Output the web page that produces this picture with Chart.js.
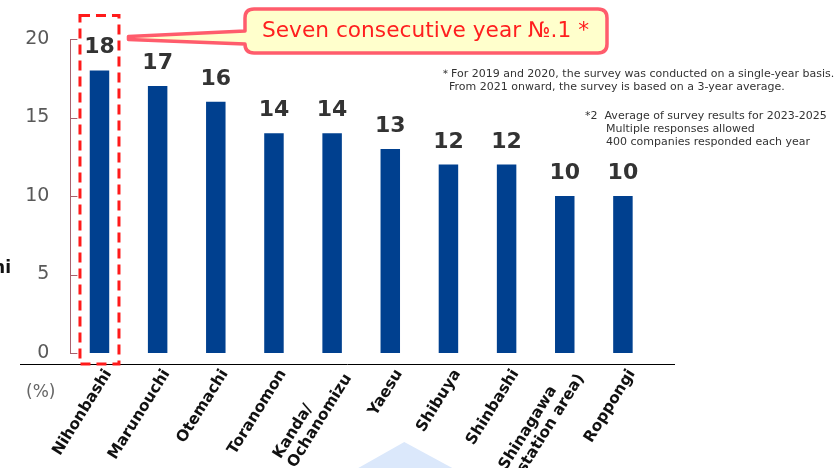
<!DOCTYPE html>
<html>
<head>
<meta charset="utf-8">
<script src="https://cdn.jsdelivr.net/npm/chart.js@4"></script>
<style>
  html, body { margin: 0; padding: 0; background: #fff; }
  #wrap { width: 836px; height: 468px; }
</style>
</head>
<body>
<div id="wrap"><canvas id="rankChart" width="836" height="468"></canvas></div>
<script>
const areas = ['Nihonbashi', 'Marunouchi', 'Otemachi', 'Toranomon', ['Kanda/', 'Ochanomizu'],
    'Yaesu', 'Shibuya', 'Shinbashi', ['Shinagawa', '(station area)'], 'Roppongi'];
const shares = [18, 17, 16, 14, 14, 13, 12, 12, 10, 10];
const yTicks = [0, 5, 10, 15, 20];

const calloutText = 'Seven consecutive year \u2116.1 *';
const noteLines1 = ['\uFF0AFor 2019 and 2020, the survey was conducted on a single-year basis.',
    'From 2021 onward, the survey is based on a 3-year average.'];
const noteLines2 = ['*2  Average of survey results for 2023-2025',
    'Multiple responses allowed', '400 companies responded each year'];

const FONT = '"DejaVu Sans", Verdana, sans-serif';
const LABEL_ANGLE = 58;

// arrow shape behind everything
const backdrop = {
    id: 'backdrop',
    beforeDraw(chart) {
        const ctx = chart.ctx;
        const x = chart.scales.x.getPixelForValue(5) + 14;
        ctx.save();
        ctx.fillStyle = '#dbe8fb';
        ctx.beginPath();
        ctx.moveTo(x, 442);
        ctx.lineTo(x + 48, 468);
        ctx.lineTo(x - 46, 468);
        ctx.closePath();
        ctx.fill();
        ctx.restore();
    }
};

// category labels: rotated, multi-line ones left aligned like the original
const categoryLabels = {
    id: 'categoryLabels',
    afterDraw(chart) {
        const ctx = chart.ctx;
        const xs = chart.scales.x;
        ctx.save();
        ctx.fillStyle = '#111';
        ctx.font = 'bold 15.5px ' + FONT;
        ctx.textAlign = 'left';
        ctx.textBaseline = 'middle';
        areas.forEach((lab, i) => {
            const lines = Array.isArray(lab) ? lab : [lab];
            const maxW = Math.max(...lines.map(l => ctx.measureText(l).width));
            ctx.save();
            ctx.translate(xs.getPixelForTick(i) + 9, xs.top + 18);
            ctx.rotate(-LABEL_ANGLE * Math.PI / 180);
            lines.forEach((l, j) => {
                ctx.fillText(l, -maxW, (j - (lines.length - 1) / 2) * 17);
            });
            ctx.restore();
        });
        ctx.restore();
    }
};

const extras = {
    id: 'extras',
    afterDraw(chart) {
        const ctx = chart.ctx;
        const area = chart.chartArea;
        const xs = chart.scales.x, ys = chart.scales.y;
        ctx.save();

        // inner ticks on the y axis
        ctx.strokeStyle = '#a8606c';
        ctx.lineWidth = 1;
        yTicks.forEach(v => {
            const py = Math.round(ys.getPixelForValue(v)) + 0.5;
            ctx.beginPath();
            ctx.moveTo(area.left, py);
            ctx.lineTo(area.left + 7, py);
            ctx.stroke();
        });

        // baseline under the bars
        const baseY = Math.round(area.bottom) + 11.5;
        ctx.strokeStyle = '#000';
        ctx.beginPath();
        ctx.moveTo(20, baseY);
        ctx.lineTo(675, baseY);
        ctx.stroke();

        // value labels
        ctx.fillStyle = '#333';
        ctx.font = 'bold 22px ' + FONT;
        ctx.textAlign = 'center';
        ctx.textBaseline = 'alphabetic';
        chart.getDatasetMeta(0).data.forEach((bar, i) => {
            ctx.fillText(shares[i], bar.x, bar.y - 17);
        });

        // dashed box around No.1
        const cx = xs.getPixelForValue(0);
        ctx.strokeStyle = '#ff1a1a';
        ctx.lineWidth = 3;
        ctx.setLineDash([10, 6]);
        ctx.strokeRect(cx - 19.5, 15.5, 39, baseY - 16);
        ctx.setLineDash([]);

        // callout
        const bx = 245, by = 9, bw = 362, bh = 44, r = 9;
        ctx.beginPath();
        ctx.moveTo(bx + r, by);
        ctx.lineTo(bx + bw - r, by);
        ctx.quadraticCurveTo(bx + bw, by, bx + bw, by + r);
        ctx.lineTo(bx + bw, by + bh - r);
        ctx.quadraticCurveTo(bx + bw, by + bh, bx + bw - r, by + bh);
        ctx.lineTo(bx + r, by + bh);
        ctx.quadraticCurveTo(bx, by + bh, bx, by + bh - r);
        ctx.lineTo(bx, 44);
        ctx.lineTo(cx + 29, 39.5);
        ctx.lineTo(cx + 29, 36.5);
        ctx.lineTo(bx, 31);
        ctx.lineTo(bx, by + r);
        ctx.quadraticCurveTo(bx, by, bx + r, by);
        ctx.closePath();
        ctx.fillStyle = '#ffffcc';
        ctx.fill();
        ctx.strokeStyle = '#ff5c6c';
        ctx.lineWidth = 3.5;
        ctx.lineJoin = 'round';
        ctx.stroke();

        ctx.fillStyle = '#ff1f1f';
        ctx.font = '21.7px ' + FONT;
        ctx.textAlign = 'left';
        ctx.textBaseline = 'middle';
        ctx.fillText(calloutText, 262, 31);

        // notes
        ctx.fillStyle = '#333';
        ctx.font = '11px ' + FONT;
        ctx.textBaseline = 'alphabetic';
        ctx.fillText(noteLines1[0], 440, 77);
        ctx.fillText(noteLines1[1], 449, 90);
        ctx.fillText(noteLines2[0], 585, 119);
        ctx.fillText(noteLines2[1], 606, 132);
        ctx.fillText(noteLines2[2], 606, 145);

        // unit and clipped side title
        ctx.fillStyle = '#666';
        ctx.font = '17px ' + FONT;
        ctx.fillText('(%)', 26, 397);
        ctx.fillStyle = '#111';
        ctx.font = 'bold 17px ' + FONT;
        ctx.textAlign = 'right';
        ctx.fillText('hi', 11, 273);

        ctx.restore();
    }
};

new Chart(document.getElementById('rankChart'), {
    type: 'bar',
    data: {
        labels: areas,
        datasets: [{
            data: shares,
            backgroundColor: '#00408f',
            barPercentage: 0.335,
            categoryPercentage: 1.0
        }]
    },
    options: {
        responsive: false,
        animation: false,
        layout: { padding: { left: 0, right: 184, top: 39, bottom: 0 } },
        plugins: { legend: { display: false }, tooltip: { enabled: false } },
        scales: {
            x: {
                grid: { display: false },
                border: { display: false },
                afterFit: s => { s.height = 115; },
                ticks: { display: false }
            },
            y: {
                min: 0,
                max: 20,
                afterFit: s => { s.width = 70.4; },
                afterBuildTicks: s => { s.ticks = yTicks.map(v => ({ value: v })); },
                grid: { display: false, drawTicks: false },
                border: { display: true, color: '#a8606c', width: 1 },
                ticks: {
                    padding: 21,
                    color: '#595959',
                    font: { family: FONT, size: 19 }
                }
            }
        }
    },
    plugins: [backdrop, categoryLabels, extras]
});
</script>
</body>
</html>
